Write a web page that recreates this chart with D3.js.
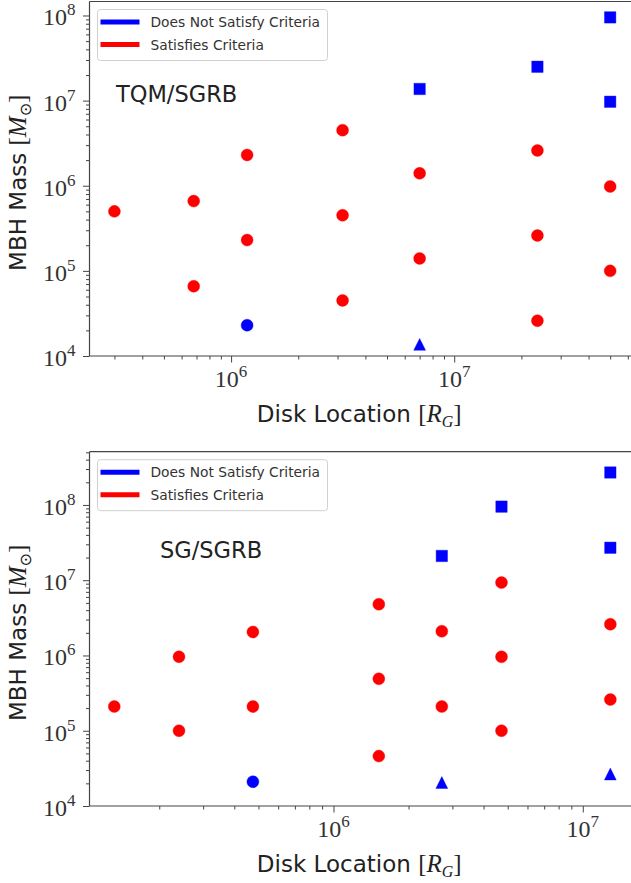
<!DOCTYPE html>
<html>
<head>
<meta charset="utf-8">
<script src="https://cdn.jsdelivr.net/npm/d3@7"></script>
<style>
  body { margin: 0; background: #fff; }
</style>
</head>
<body>
<svg id="fig"></svg>
<script>
// points: [disk location (R_G), MBH mass (Msun), satisfies criteria (1/0), marker]
const tqmPoints = [
  [3.0e5, 5.0e5, 1, "o"],
  [6.8e5, 6.6e5, 1, "o"], [6.8e5, 6.6e4, 1, "o"],
  [1.18e6, 2.3e6, 1, "o"], [1.18e6, 2.3e5, 1, "o"], [1.18e6, 2.3e4, 0, "o"],
  [3.16e6, 4.5e6, 1, "o"], [3.16e6, 4.5e5, 1, "o"], [3.16e6, 4.5e4, 1, "o"],
  [7.0e6, 1.37e7, 0, "s"], [7.0e6, 1.4e6, 1, "o"], [7.0e6, 1.4e5, 1, "o"], [7.0e6, 1.37e4, 0, "^"],
  [2.36e7, 2.5e7, 0, "s"], [2.36e7, 2.6e6, 1, "o"], [2.36e7, 2.6e5, 1, "o"], [2.36e7, 2.6e4, 1, "o"],
  [5.0e7, 9.5e7, 0, "s"], [5.0e7, 9.7e6, 0, "s"], [5.0e7, 9.8e5, 1, "o"], [5.0e7, 1.0e5, 1, "o"]
];
const sgPoints = [
  [1.32e5, 2.1e5, 1, "o"],
  [2.4e5, 9.6e5, 1, "o"], [2.4e5, 1.0e5, 1, "o"],
  [4.75e5, 2.05e6, 1, "o"], [4.75e5, 2.1e5, 1, "o"], [4.75e5, 2.1e4, 0, "o"],
  [1.52e6, 4.8e6, 1, "o"], [1.52e6, 4.9e5, 1, "o"], [1.52e6, 4.6e4, 1, "o"],
  [2.72e6, 2.1e7, 0, "s"], [2.72e6, 2.1e6, 1, "o"], [2.72e6, 2.1e5, 1, "o"], [2.72e6, 2.05e4, 0, "^"],
  [4.72e6, 9.5e7, 0, "s"], [4.72e6, 9.3e6, 1, "o"], [4.72e6, 9.6e5, 1, "o"], [4.72e6, 1.0e5, 1, "o"],
  [1.29e7, 2.7e8, 0, "s"], [1.29e7, 2.7e7, 0, "s"], [1.29e7, 2.6e6, 1, "o"], [1.29e7, 2.6e5, 1, "o"], [1.29e7, 2.66e4, 0, "^"]
];

const tqmXLim = [2.32e5, 6.46e7];
const tqmYLim = [1e4, 1.46e8];
const sgXLim = [1.05e5, 1.62e7];
const sgYLim = [1e4, 5.1e8];

const tqmXMajor = [1e6, 1e7];
const sgXMajor = [1e6, 1e7];
const tqmYMajor = [1e4, 1e5, 1e6, 1e7, 1e8];
const sgYMajor = [1e4, 1e5, 1e6, 1e7, 1e8];

const legendLabels = ["Does Not Satisfy Criteria", "Satisfies Criteria"];
const legendColors = ["#0000ff", "#ff0000"];
const statusColors = ["#0000ff", "#ff0000"];

const W = 631, H = 883;
const serif = "'Liberation Serif', 'DejaVu Serif', serif";
const sans = "'DejaVu Sans', sans-serif";

const svg = d3.select("#fig").attr("width", W).attr("height", H);
svg.append("rect").attr("width", W).attr("height", H).attr("fill", "#fff");

// matplotlib-like up triangle (width == height)
const triUp = {
  draw(ctx, size) {
    const r = Math.sqrt(size) / 2;
    ctx.moveTo(0, -r);
    ctx.lineTo(r, r);
    ctx.lineTo(-r, r);
    ctx.closePath();
  }
};
const symbols = {
  "o": d3.symbol(d3.symbolCircle, 113),
  "s": d3.symbol(d3.symbolSquare, 130),
  "^": d3.symbol(triUp, 140)
};

function minorTicks(domain) {
  const out = [];
  const k0 = Math.floor(Math.log10(domain[0])), k1 = Math.ceil(Math.log10(domain[1]));
  for (let k = k0; k <= k1; k++) {
    for (let m = 2; m <= 9; m++) {
      const v = m * Math.pow(10, k);
      if (v >= domain[0] && v <= domain[1]) out.push(v);
    }
  }
  return out;
}

function powLabel(sel, v) {
  sel.append("tspan").text("10");
  sel.append("tspan").attr("font-size", 17).attr("dy", -10).text(Math.round(Math.log10(v)));
}

function mathLabel(sel, plain, sym, sub, subSerif) {
  sel.append("tspan").text(plain);
  sel.append("tspan").attr("font-family", serif).attr("font-size", 25).text("[");
  sel.append("tspan").attr("font-family", serif).attr("font-style", "italic").attr("font-size", 25).text(sym);
  sel.append("tspan").attr("font-family", subSerif ? serif : "'DejaVu Sans', sans-serif")
    .attr("font-style", subSerif ? "italic" : "normal")
    .attr("font-size", 16).attr("dy", 5).text(sub);
  sel.append("tspan").attr("font-family", serif).attr("font-size", 25).attr("dy", -5).text("]");
}

function drawPanel(cfg) {
  const b = cfg.box;
  const x = d3.scaleLog().domain(cfg.xLim).range([b.left, b.right]);
  const y = d3.scaleLog().domain(cfg.yLim).range([b.bottom, b.top]);
  const g = svg.append("g");

  // minor + major ticks via d3 axes
  const axisStyle = s => {
    s.select(".domain").remove();
    s.selectAll(".tick line").attr("stroke", "#444").attr("stroke-width", 1);
  };
  g.append("g").attr("transform", `translate(0,${b.bottom})`)
    .call(d3.axisBottom(x).tickValues(minorTicks(cfg.xLim)).tickSize(3.5).tickFormat(""))
    .call(axisStyle);
  g.append("g").attr("transform", `translate(0,${b.bottom})`)
    .call(d3.axisBottom(x).tickValues(cfg.xMajor).tickSize(6.5).tickFormat(""))
    .call(axisStyle);
  g.append("g").attr("transform", `translate(${b.left},0)`)
    .call(d3.axisLeft(y).tickValues(minorTicks(cfg.yLim)).tickSize(3.5).tickFormat(""))
    .call(axisStyle);
  g.append("g").attr("transform", `translate(${b.left},0)`)
    .call(d3.axisLeft(y).tickValues(cfg.yMajor).tickSize(6.5).tickFormat(""))
    .call(axisStyle);

  // spines
  g.append("line").attr("x1", b.left).attr("x2", b.right).attr("y1", b.bottom).attr("y2", b.bottom)
    .attr("stroke", "#444").attr("stroke-width", 1.2);
  g.append("line").attr("x1", b.left).attr("x2", b.right).attr("y1", b.top).attr("y2", b.top)
    .attr("stroke", "#444").attr("stroke-width", 1.2);
  g.append("line").attr("x1", b.left).attr("x2", b.left).attr("y1", b.top).attr("y2", b.bottom)
    .attr("stroke", "#444").attr("stroke-width", 1.2);

  // tick labels
  cfg.xMajor.forEach(v => {
    g.append("text").attr("x", x(v)).attr("y", b.bottom + 31)
      .attr("text-anchor", "middle").attr("font-family", serif).attr("font-size", 24)
      .attr("fill", "#333").call(powLabel, v);
  });
  cfg.yMajor.forEach(v => {
    g.append("text").attr("x", b.left - 14).attr("y", y(v) + 10)
      .attr("text-anchor", "end").attr("font-family", serif).attr("font-size", 24)
      .attr("fill", "#333").call(powLabel, v);
  });

  // axis labels
  g.append("text").attr("x", (b.left + b.right) / 2 - 3).attr("y", b.bottom + 66)
    .attr("text-anchor", "middle").attr("font-family", sans).attr("font-size", 23)
    .attr("fill", "#222").call(mathLabel, "Disk Location ", "R", "G", true);
  g.append("text")
    .attr("transform", `translate(26,${(b.top + b.bottom) / 2 + 4}) rotate(-90)`)
    .attr("text-anchor", "middle").attr("font-family", sans).attr("font-size", 23)
    .attr("fill", "#222").call(mathLabel, "MBH Mass ", "M", "\u2299", false);

  // points
  g.append("g").selectAll("path").data(cfg.points).join("path")
    .attr("transform", d => `translate(${x(d[0])},${y(d[1])})`)
    .attr("d", d => symbols[d[3]]())
    .attr("fill", d => statusColors[d[2]])
    .attr("stroke", d => statusColors[d[2]])
    .attr("stroke-opacity", 0.5)
    .attr("stroke-width", 0.8);

  // annotation
  g.append("text").attr("x", cfg.note[0]).attr("y", cfg.note[1])
    .attr("font-family", sans).attr("font-size", 22.5).attr("fill", "#222")
    .text(cfg.name);

  // legend
  const lg = g.append("g").attr("transform", `translate(${b.left + 8},${b.top + 8})`);
  lg.append("rect").attr("width", 230).attr("height", 51).attr("rx", 3)
    .attr("fill", "#fff").attr("fill-opacity", 0.8)
    .attr("stroke", "#d0d0d0").attr("stroke-width", 1);
  legendLabels.forEach((t, i) => {
    lg.append("line").attr("x1", 3).attr("x2", 42)
      .attr("y1", 12.5 + i * 22.6).attr("y2", 12.5 + i * 22.6)
      .attr("stroke", legendColors[i]).attr("stroke-width", 5);
    lg.append("text").attr("x", 53).attr("y", 17.5 + i * 22.6)
      .attr("font-family", sans).attr("font-size", 13.8).attr("fill", "#333")
      .text(t);
  });
}

drawPanel({
  name: "TQM/SGRB", points: tqmPoints, xLim: tqmXLim, yLim: tqmYLim,
  xMajor: tqmXMajor, yMajor: tqmYMajor,
  box: { left: 89.5, right: 635, top: 1.5, bottom: 356 },
  note: [116, 102]
});
drawPanel({
  name: "SG/SGRB", points: sgPoints, xLim: sgXLim, yLim: sgYLim,
  xMajor: sgXMajor, yMajor: sgYMajor,
  box: { left: 89.5, right: 635, top: 451.7, bottom: 806 },
  note: [160, 558]
});
</script>
</body>
</html>
